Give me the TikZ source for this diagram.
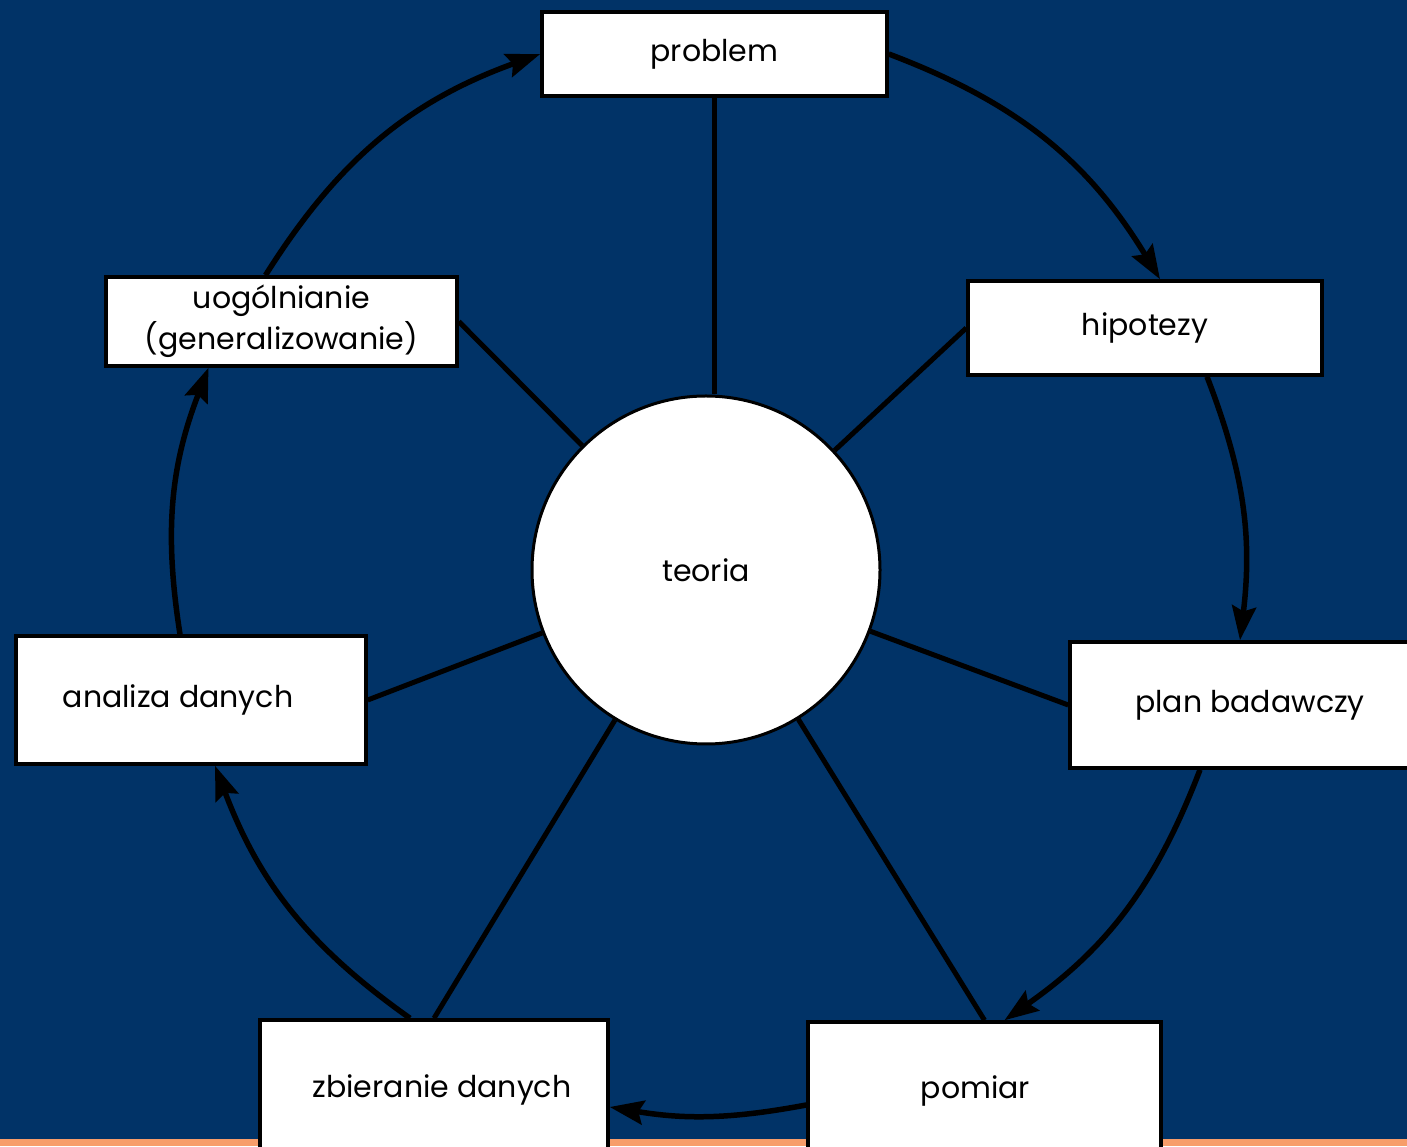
\documentclass[tikz,border=0pt]{standalone}
\usepackage{fontspec}
\setmainfont{Poppins}
\usetikzlibrary{arrows.meta}
\definecolor{navy}{RGB}{1,51,103}
\definecolor{stripe}{RGB}{247,157,106}
\begin{document}
\begin{tikzpicture}[x=1pt,y=1pt,
  box/.style={draw=black,line width=3.5pt,fill=white,inner sep=0pt,
    font=\fontsize{30}{41}\selectfont,align=center},
  spoke/.style={line width=5pt,black},
  cyc/.style={line width=5.5pt,black,-{Stealth[length=34pt,width=24pt,inset=5pt]}}]
\useasboundingbox (0,0) rectangle (1407,1146);
\clip (0,0) rectangle (1407,1146);
\fill[navy] (0,0) rectangle (1407,1146);
\fill[stripe] (0,0) rectangle (1407,7);
% nodes
\node[box,minimum width=345pt,minimum height=84pt] (problem) at (714.5,1092) {problem};
\node[box,minimum width=354pt,minimum height=94pt] (hip) at (1145,818) {hipotezy};
\node[box,minimum width=360pt,minimum height=126pt] (plan) at (1250,441) {plan badawczy};
\node[box,minimum width=353pt,minimum height=138pt] (pomiar) at (984.5,55) {pomiar\hspace*{18pt}};
\node[box,minimum width=348pt,minimum height=140pt] (zb) at (434,56) {\hspace*{16pt}zbieranie danych};
\node[box,minimum width=350pt,minimum height=128pt] (an) at (191,446) {analiza danych\hspace*{26pt}};
\node[box,minimum width=351pt,minimum height=89pt] (ug) at (281.5,824.5) {uogólnianie\\(generalizowanie)};
\node[circle,draw=black,line width=3pt,fill=white,minimum size=348pt,inner sep=0pt,
  font=\fontsize{30}{36}\selectfont] (teoria) at (706,576) {teoria};
% spokes
\draw[spoke] (problem.south) -- (problem.south |- teoria.north);
\draw[spoke] (teoria) -- (hip.west);
\draw[spoke] (teoria) -- (plan.west);
\draw[spoke] (teoria) -- (pomiar.north);
\draw[spoke] (teoria) -- (zb.north);
\draw[spoke] (teoria) -- (an.east);
\draw[spoke] (teoria) -- (ug.east);
% cycle arrows
\draw[cyc] ([xshift=-16pt]ug.north) to[bend left=19] (problem.west);
\draw[cyc] (problem.east) to[bend left=19] ([xshift=15pt]hip.north);
\draw[cyc] ([xshift=62pt]hip.south) to[bend left=14] ([xshift=-10pt]plan.north);
\draw[cyc] ([xshift=-50pt]plan.south) to[bend left=17] ([xshift=20pt]pomiar.north);
\draw[cyc] ([yshift=-14pt]pomiar.west) to[bend left=10] ([yshift=-17pt]zb.east);
\draw[cyc] ([xshift=-24pt]zb.north) to[bend left=17] ([xshift=24pt]an.south);
\draw[cyc] ([xshift=-11pt]an.north) to[bend left=15] ([xshift=-73pt]ug.south);
\end{tikzpicture}
\end{document}
